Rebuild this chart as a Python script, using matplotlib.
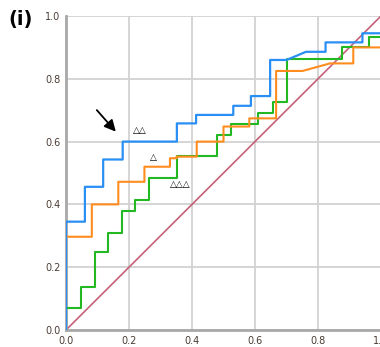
import matplotlib
matplotlib.use('Agg')
import matplotlib.pyplot as plt

# ROC curve vertices
blue_x = [0, 0, 0.06, 0.06, 0.118, 0.118, 0.18, 0.18, 0.352, 0.352, 0.413, 0.413,
          0.531, 0.531, 0.587, 0.587, 0.648, 0.648, 0.70, 0.762, 0.824, 0.824,
          0.941, 0.941, 1, 1]
blue_y = [0, 0.345, 0.345, 0.456, 0.456, 0.543, 0.543, 0.60, 0.60, 0.658, 0.658, 0.685,
          0.685, 0.714, 0.714, 0.745, 0.745, 0.86, 0.86, 0.886, 0.886, 0.916,
          0.916, 0.945, 0.945, 1]

orange_x = [0, 0, 0.082, 0.082, 0.166, 0.166, 0.249, 0.249, 0.33, 0.33, 0.351, 0.351,
            0.415, 0.415, 0.50, 0.50, 0.582, 0.582, 0.667, 0.667, 0.751, 0.838,
            0.912, 0.912, 1, 1]
orange_y = [0, 0.297, 0.297, 0.40, 0.40, 0.472, 0.472, 0.52, 0.52, 0.547, 0.547, 0.552,
            0.552, 0.60, 0.60, 0.648, 0.648, 0.674, 0.674, 0.825, 0.825, 0.849,
            0.849, 0.90, 0.90, 1]

green_x = [0, 0, 0.047, 0.047, 0.092, 0.092, 0.134, 0.134, 0.177, 0.177, 0.219, 0.219,
           0.265, 0.265, 0.351, 0.351, 0.48, 0.48, 0.523, 0.523, 0.611, 0.611,
           0.656, 0.656, 0.70, 0.70, 0.875, 0.875, 0.962, 0.962, 1, 1]
green_y = [0, 0.069, 0.069, 0.136, 0.136, 0.249, 0.249, 0.31, 0.31, 0.379, 0.379, 0.414,
           0.414, 0.483, 0.483, 0.554, 0.554, 0.621, 0.621, 0.656, 0.656, 0.69,
           0.69, 0.727, 0.727, 0.862, 0.862, 0.90, 0.90, 0.932, 0.932, 1]

ticks = [0.0, 0.2, 0.4, 0.6, 0.8, 1.0]
tick_labels = ['0.0', '0.2', '0.4', '0.6', '0.8', '1.0']

fig = plt.figure(figsize=(3.8, 3.47), dpi=100)
ax = fig.add_axes([66/380, 17/347, 315/380, 314/347])

ax.plot([0, 1], [0, 1], color='#c4607a', linewidth=1.2, zorder=2)
ax.plot(green_x, green_y, color='#22b822', linewidth=1.5, zorder=3)
ax.plot(orange_x, orange_y, color='#ff8c1e', linewidth=1.5, zorder=4)
ax.plot(blue_x, blue_y, color='#2a8ff5', linewidth=1.6, zorder=5)

ax.set_xlim(0, 1)
ax.set_ylim(0, 1)
ax.set_xticks(ticks)
ax.set_yticks(ticks)
ax.set_xticklabels(tick_labels)
ax.set_yticklabels(tick_labels)
ax.tick_params(length=0, pad=4, labelsize=7, labelcolor='#4a3c34')
ax.grid(True, color='#d2d2d2', linewidth=1.3)
ax.set_axisbelow(True)
for s in ['top', 'right']:
    ax.spines[s].set_visible(False)
for s in ['left', 'bottom']:
    ax.spines[s].set_color('#a8a8a8')
    ax.spines[s].set_linewidth(2)

ax.annotate('', xy=(0.164, 0.625), xytext=(0.092, 0.707),
            arrowprops=dict(arrowstyle='-|>', color='black', lw=1.3, mutation_scale=17))
ax.text(0.235, 0.634, '\u25b3\u25b3', fontsize=6.5, ha='center', va='center')
ax.text(0.276, 0.548, '\u25b3', fontsize=6.5, ha='center', va='center')
ax.text(0.362, 0.462, '\u25b3\u25b3\u25b3', fontsize=6.5, ha='center', va='center')

fig.text(8/380, 1 - 20/347, '(i)', fontsize=14, fontweight='bold', ha='left', va='center')

fig.savefig('out.png', dpi=100)
